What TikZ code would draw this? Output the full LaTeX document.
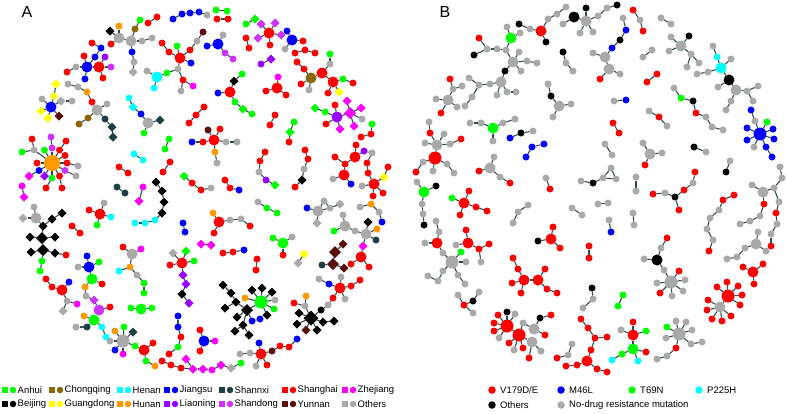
\documentclass[tikz,border=0pt]{standalone}
\usepackage{fontspec}
\setmainfont{Liberation Sans}
\usetikzlibrary{shapes.geometric}
\definecolor{cRD}{HTML}{FF0000}
\definecolor{cBL}{HTML}{0000FF}
\definecolor{cGN}{HTML}{00FF00}
\definecolor{cCY}{HTML}{00FFFF}
\definecolor{cBK}{HTML}{000000}
\definecolor{cOR}{HTML}{FF9900}
\definecolor{cYE}{HTML}{FFFF00}
\definecolor{cMG}{HTML}{FF00FF}
\definecolor{cLP}{HTML}{9900FF}
\definecolor{cSD}{HTML}{CC33FF}
\definecolor{cCQ}{HTML}{8B6508}
\definecolor{cYN}{HTML}{5C0F0F}
\definecolor{cSX}{HTML}{1E3F46}
\definecolor{cGY}{HTML}{A9A9A9}
\definecolor{cED}{HTML}{2F4F4F}
\newcommand\mkN[3]{\node[#3] (#1) at (#2) {};}
\newcommand\mkE[1]{\foreach \fromN/\toN in {#1}{\draw[edge] (\fromN)--(\toN);}}
\begin{document}
\begin{tikzpicture}[x=1pt,y=-1pt,
  nd/.style={circle,draw=none,inner sep=0pt,outer sep=0pt,minimum size=7pt},
  RD/.style={nd,fill=cRD}, BL/.style={nd,fill=cBL}, GN/.style={nd,fill=cGN},
  CY/.style={nd,fill=cCY}, BK/.style={nd,fill=cBK}, OR/.style={nd,fill=cOR},
  YE/.style={nd,fill=cYE}, MG/.style={nd,fill=cMG}, LP/.style={nd,fill=cLP},
  SD/.style={nd,fill=cSD}, CQ/.style={nd,fill=cCQ}, YN/.style={nd,fill=cYN},
  SX/.style={nd,fill=cSX}, GY/.style={nd,fill=cGY},
  dia/.style={diamond,minimum size=9pt},
  hub/.style={minimum size=11pt},
  lhub/.style={minimum size=13pt},
  bhub/.style={minimum size=16pt},
  dhub/.style={diamond,minimum size=12pt},
  dbig/.style={diamond,minimum size=15pt},
  edge/.style={draw=cED,line width=1.1pt},
  lsq/.style={rectangle,draw=none,inner sep=0pt,minimum size=6pt},
  lci/.style={circle,draw=none,inner sep=0pt,minimum size=6.5pt},
  lcb/.style={circle,draw=none,inner sep=0pt,minimum size=7.5pt},
  ltx/.style={anchor=west,inner sep=0pt,font=\fontsize{9.5}{11}\selectfont},
  plab/.style={inner sep=0pt,font=\fontsize{16}{16}\selectfont}]
\useasboundingbox (0,0) rectangle (787,413);
\node[plab] (labA) at (27,12) {A};
\node[plab] (labB) at (445,12) {B};
% ================= Panel A =================
\mkN{aa1}{148,23}{RD}\mkN{aa2}{157,17}{RD}\mkE{aa1/aa2}
\mkN{ab1}{173,19}{BL}\mkN{ab2}{182,14}{BL}\mkN{ab3}{190,13}{BL}\mkN{ab4}{199,12}{BL}\mkN{ab5}{207,15}{GY}
\mkE{ab1/ab2,ab2/ab3,ab3/ab4,ab4/ab5}
\mkN{ac1}{216,10}{GN}\mkN{ac2}{227,11}{GN}\mkN{ac3}{217,19}{RD}\mkN{ac4}{228,19}{RD}\mkE{ac1/ac2,ac3/ac4}
\mkN{ad1}{119,38}{GY,hub}\mkN{ad2}{131,41}{GY,hub}\mkN{ad3}{110,31}{BK,dia}\mkN{ad4}{119,26}{OR}\mkN{ad5}{135,29}{CQ}\mkN{ad6}{140,20}{GN}\mkN{ad7}{142,41}{GY}\mkN{ad8}{152,38}{GY}\mkN{ad9}{111,44}{RD}\mkN{ad10}{132,52}{BL}\mkN{ad11}{134,62}{GY}\mkN{ad12}{133,72}{GY,dia}
\mkE{ad1/ad3,ad1/ad4,ad1/ad9,ad1/ad2,ad2/ad5,ad5/ad6,ad2/ad7,ad7/ad8,ad2/ad10,ad10/ad11,ad11/ad12}
\mkN{ae1}{92,43}{RD}\mkN{ae2}{101,48}{BL}\mkN{ae3}{95,57}{BL}\mkN{ae4}{105,57}{LP}\mkN{ae5}{87,67}{BL,hub}\mkN{ae6}{99,67}{RD,hub}\mkN{ae7}{111,67}{SD}\mkN{ae8}{103,78}{RD}\mkN{ae9}{76,67}{GY}\mkN{ae10}{67,72}{RD}\mkN{ae11}{85,79}{BL}\mkN{ae12}{84,56}{RD}
\mkE{ae1/ae2,ae2/ae3,ae3/ae5,ae4/ae6,ae5/ae6,ae6/ae7,ae6/ae8,ae5/ae9,ae9/ae10,ae5/ae11,ae5/ae12}
\mkN{af1}{180,58}{RD,hub}\mkN{af2}{162,43}{RD}\mkN{af3}{169,52}{RD}\mkN{af4}{177,46}{GN}\mkN{af5}{191,63}{BL}\mkN{af6}{190,50}{RD}\mkN{af7}{197,41}{GY}\mkN{af16}{203,32}{YN}\mkN{af8}{178,69}{GY}\mkN{af9}{183,80}{RD}\mkN{af10}{193,86}{MG}\mkN{af11}{181,91}{GY}\mkN{af12}{167,73}{GN}\mkN{af13}{157,77}{CY,hub}\mkN{af14}{147,71}{GY}\mkN{af15}{154,88}{CY}
\mkE{af2/af3,af3/af1,af4/af1,af1/af5,af1/af6,af6/af7,af7/af16,af1/af8,af8/af9,af9/af10,af9/af11,af8/af12,af12/af13,af13/af14,af13/af15}
\mkN{gb1}{223,35}{GY}\mkN{gb2}{218,44}{BL,hub}\mkN{gb3}{207,46}{BL}\mkN{gb4}{225,53}{SD}\mkN{gb5}{233,59}{SD}
\mkE{gb1/gb2,gb2/gb3,gb2/gb4,gb4/gb5}
\mkN{ag1}{51,107}{BL,hub}\mkN{ag2}{41,111}{YE,dia}\mkN{ag3}{48,118}{YE,dia}\mkN{ag4}{54,96}{YE}\mkN{ag5}{56,84}{YE,dia}\mkN{ag6}{42,99}{GY}\mkN{ag7}{61,101}{GY,dia}\mkN{ag8}{72,101}{GY}\mkN{ag9}{59,116}{YN,dia}
\mkE{ag1/ag2,ag1/ag3,ag1/ag4,ag4/ag5,ag1/ag6,ag1/ag7,ag7/ag8,ag1/ag9}
\mkN{ah1}{68,84}{GY}\mkN{ah2}{78,87}{GY}\mkN{ah3}{87,92}{OR}\mkN{ah4}{92,102}{RD}\mkN{ah5}{97,110}{GY,hub}\mkN{ah6}{107,104}{GY}\mkN{ah7}{88,118}{CQ}\mkN{ah8}{79,124}{CQ}\mkN{ah9}{105,119}{SX}\mkN{ah10}{112,127}{SX,dia}\mkN{ah11}{113,137}{SX,dia}
\mkE{ah1/ah2,ah2/ah3,ah3/ah4,ah4/ah5,ah5/ah6,ah5/ah7,ah7/ah8,ah5/ah9,ah9/ah10,ah10/ah11}
\mkN{ai1}{129,98}{CY}\mkN{ai2}{133,107}{CY,dia}\mkN{ai3}{141,114}{BL}\mkN{ai4}{148,123}{GY,hub}\mkN{ai5}{160,120}{SX,dia}\mkN{ai6}{144,133}{GN}
\mkE{ai1/ai2,ai2/ai3,ai3/ai4,ai4/ai5,ai4/ai6}
\mkN{aj1}{169,139}{GN}\mkN{aj2}{165,149}{GN}\mkE{aj1/aj2}
\mkN{al0}{52,163}{OR,bhub}
\mkN{al1}{34,150}{GY}\mkN{al2}{32,139}{RD}\mkN{al3}{22,152}{GN}
\mkN{al6}{52,148}{SD}\mkN{al4}{51,137}{SD}\mkN{al5}{44.5,150}{GN}
\mkN{al7}{59.5,150}{RD}\mkN{al8}{66,141}{RD}
\mkN{al21}{65,155.5}{RD}\mkN{al19}{67,163}{RD}\mkN{al20}{78,166}{GY}
\mkN{al9}{37,163}{RD}\mkN{al10}{39,170.5}{BL}\mkN{al12}{29,176}{MG,dia}\mkN{al11}{44.5,176}{LP,dia}
\mkN{al13}{52,178}{GN}\mkN{al14}{46,188}{RD}\mkN{al15}{59.5,176}{RD}\mkN{al16}{62,188}{RD}\mkN{al17}{65,170.5}{SD}\mkN{al18}{76,176}{GY}
\mkE{al0/al1,al1/al2,al1/al3,al0/al6,al6/al4,al0/al5,al0/al7,al7/al8,al0/al21,al0/al19,al19/al20,al0/al9,al0/al10,al10/al12,al0/al11,al0/al13,al13/al14,al0/al15,al15/al16,al0/al17,al17/al18}
\mkN{am1}{134,154}{CY}\mkN{am2}{143,160}{CY}\mkE{am1/am2}
\mkN{an1}{119,167}{RD}\mkN{an2}{128,173}{RD}\mkE{an1/an2}
\mkN{ao1}{170,162}{RD}\mkN{ao2}{163,172}{RD}\mkE{ao1/ao2}
\mkN{ap1}{184,176}{GN,dia}\mkN{ap2}{192,183}{RD}\mkN{ap3}{201,190}{RD}\mkN{ap4}{211,188}{GY}\mkE{ap1/ap2,ap2/ap3,ap3/ap4}
\mkN{aq1}{117,187}{SX}\mkN{aq2}{125,193}{SX}\mkE{aq1/aq2}
\mkN{ar1}{143,187}{MG}\mkN{ar2}{139,201}{MG,dia}\mkE{ar1/ar2}
\mkN{as1}{156,182}{BK,dia}\mkN{as2}{162,191}{BK,dia}\mkN{as3}{164,202}{BK,dia}\mkN{as4}{162,213}{BK,dia}\mkN{as5}{155,220}{CY}\mkN{as6}{145,223}{CY}\mkN{as7}{135,223}{CY}
\mkE{as1/as2,as2/as3,as3/as4,as4/as5,as5/as6,as6/as7}
\mkN{at1}{22,186}{MG}\mkN{at2}{24,197}{MG,dia}\mkE{at1/at2}
\mkN{au1}{255,19}{GN,dia}\mkN{au2}{246,24}{GN}\mkE{au1/au2}
\mkN{av1}{269,33}{RD,hub}\mkN{av2}{261,24}{SD,dia}\mkN{av3}{275,23}{SD,dia}\mkN{av4}{258,38}{SD,dia}\mkN{av5}{281,35}{SD,dia}\mkN{av6}{270,45}{RD}
\mkE{av1/av2,av1/av3,av1/av4,av1/av5,av1/av6}
\mkN{aw1}{246,38}{RD}\mkN{aw2}{249,48}{RD}\mkE{aw1/aw2}
\mkN{ax1}{287,31}{BL}\mkN{ax2}{292,40}{BL,hub}\mkN{ax3}{303,41}{RD}\mkN{ax4}{285,49}{GY}\mkE{ax1/ax2,ax2/ax3,ax2/ax4}
\mkN{ay1}{295,53}{RD}\mkN{ay2}{305,50}{RD}\mkN{ay3}{315,53}{RD}\mkE{ay1/ay2,ay2/ay3}
\mkN{az1}{261,64}{LP}\mkN{az2}{271,59}{LP,dia}\mkE{az1/az2}
\mkN{ca1}{330,54}{GN}\mkN{ca2}{330,64}{GY}\mkN{ca3}{322,73}{RD,hub}\mkN{ca4}{311,78}{CQ,hub}\mkN{ca5}{297,62}{RD}\mkN{ca6}{304,69}{RD}\mkN{ca7}{301,84}{RD}\mkN{ca8}{309,90}{GY}\mkN{ca9}{333,82}{RD,hub}\mkN{ca10}{343,79}{GN}\mkN{ca11}{353,83}{RD}\mkN{ca12}{328,93}{RD}\mkN{ca13}{339,92}{YE,dia}
\mkE{ca1/ca2,ca2/ca3,ca3/ca4,ca5/ca6,ca6/ca4,ca4/ca7,ca4/ca8,ca3/ca9,ca9/ca10,ca10/ca11,ca9/ca12,ca9/ca13}
\mkN{cb1}{242,74}{GN}\mkN{cb2}{234,81}{BK,dia}\mkN{cb3}{230,92}{RD,hub}\mkN{cb4}{218,93}{BL}\mkN{cb5}{235,102}{GN}\mkN{cb6}{243,109}{GN,dia}\mkN{cb7}{252,114}{GN}
\mkE{cb1/cb2,cb2/cb3,cb3/cb4,cb3/cb5,cb5/cb6,cb6/cb7}
\mkN{cc1}{189,123}{RD}\mkN{cc2}{196,115}{RD}\mkN{cc3}{204,107}{RD}\mkE{cc1/cc2,cc2/cc3}
\mkN{cd1}{278,77}{MG}\mkN{cd2}{277,88}{RD,hub}\mkN{cd3}{266,91}{RD}\mkN{cd4}{286,95}{RD}\mkE{cd1/cd2,cd3/cd2,cd2/cd4}
\mkN{ce1}{337,117}{LP,hub}\mkN{ce2}{350,113}{MG,dhub}\mkN{ce3}{347,101}{MG,dia}\mkN{ce4}{361,108}{MG,dia}\mkN{ce5}{354,126}{MG,dia}\mkN{ce6}{340,129}{MG,dia}\mkN{ce7}{362,119}{GY}\mkN{ce8}{335,105}{RD}\mkN{ce9}{326,124}{RD}\mkN{ce10}{325,112}{GN}\mkN{ce11}{315,108}{GN,dia}
\mkE{ce1/ce2,ce2/ce3,ce2/ce4,ce2/ce5,ce1/ce6,ce2/ce7,ce1/ce8,ce1/ce9,ce1/ce10,ce10/ce11}
\mkN{cf1}{275,115}{RD}\mkN{cf2}{270,125}{RD}\mkE{cf1/cf2}
\mkN{cg1}{294,122}{GN}\mkN{cg2}{290,132}{GN,dia}\mkN{cg3}{289,142}{RD}\mkE{cg1/cg2,cg2/cg3}
\mkN{ch1}{372,124}{GN}\mkN{ch2}{371,134}{RD}\mkN{ch3}{361,137}{RD}\mkE{ch1/ch2,ch2/ch3}
\mkN{ci1}{214,140}{RD,hub}\mkN{ci2}{208,130}{YN}\mkN{ci3}{220,129}{RD}\mkN{ci4}{203,142}{RD}\mkN{ci5}{192,142}{BL}\mkN{ci6}{226,142}{GY}\mkN{ci7}{237,142}{GY}\mkN{ci8}{215,152}{OR}\mkN{ci9}{217,163}{GY}
\mkE{ci1/ci2,ci1/ci3,ci1/ci4,ci4/ci5,ci1/ci6,ci6/ci7,ci1/ci8,ci8/ci9}
\mkN{cj1}{265,152}{RD}\mkN{cj2}{260,161}{RD}\mkN{cj3}{259,172}{GY}\mkN{cj4}{266,180}{LP}\mkN{cj5}{275,185}{GN,dia}\mkE{cj1/cj2,cj2/cj3,cj3/cj4,cj4/cj5}
\mkN{ck1}{305,150}{RD}\mkN{ck2}{308,159}{RD}\mkN{ck3}{304,169}{GY}\mkN{ck4}{302,180}{BK,dia}\mkN{ck5}{295,187}{RD}\mkE{ck1/ck2,ck2/ck3,ck3/ck4,ck4/ck5}
\mkN{cl1}{356,145}{RD}\mkN{cl2}{355,157}{RD,hub}\mkN{cl3}{364,151}{LP}\mkN{cl5}{345,164}{RD}\mkN{cl6}{335,157}{RD}\mkN{cl7}{344,175}{RD,hub}\mkN{cl8}{333,179}{GY}\mkN{cl9}{351,184}{BL}
\mkE{cl1/cl2,cl2/cl3,cl2/cl5,cl5/cl6,cl5/cl7,cl7/cl8,cl7/cl9}
\mkN{cm1}{372,153}{GY}\mkN{cm2}{367,163}{RD}\mkN{cm3}{368,173}{RD}\mkN{cm4}{374,184}{RD,hub}\mkN{cm5}{384,177}{YE,dia}\mkN{cm6}{388,167}{RD}\mkN{cm7}{362,186}{GY}\mkN{cm8}{373,196}{RD}\mkN{cm9}{383,193}{RD}
\mkE{cl3/cm1,cm1/cm2,cm2/cm3,cm3/cm4,cm4/cm5,cm5/cm6,cm4/cm7,cm4/cm8,cm4/cm9}
\mkN{cn1}{225,180}{RD}\mkN{cn2}{230,188}{RD}\mkN{cn3}{239,190}{BL}\mkE{cn1/cn2,cn2/cn3}
\mkN{co1}{34,207}{GY}\mkN{co2}{23,218}{GY,dia}\mkN{co3}{36,218}{GY,hub}\mkN{co4}{43,226}{BK,dia}\mkN{co5}{62,213}{BK,dia}\mkN{co6}{52,219}{BK,dia}\mkN{co7}{42,238}{BK,dhub}\mkN{co8}{30,237}{BK,dia}\mkN{co9}{55,237}{BK,dia}\mkN{co10}{43,250}{BK,dhub}\mkN{co11}{31,252}{BK,dia}\mkN{co12}{55,253}{BK,dia}\mkN{co13}{66,255}{RD}\mkN{co14}{42,261}{GN}\mkN{co15}{40,271}{GN}
\mkE{co1/co3,co2/co3,co3/co4,co4/co7,co5/co6,co6/co4,co7/co8,co7/co9,co7/co10,co10/co11,co10/co12,co12/co13,co10/co14,co14/co15}
\mkN{cp1}{89,210}{RD}\mkN{cp2}{100,214}{RD,hub}\mkN{cp3}{104,203}{GY}\mkN{cp4}{111,217}{CY}\mkN{cp5}{97,225}{GN}\mkE{cp1/cp2,cp2/cp3,cp2/cp4,cp2/cp5}
\mkN{cq1}{72,226}{RD}\mkN{cq2}{80,233}{RD}\mkE{cq1/cq2}
\mkN{cr1}{183,223}{BL}\mkN{cr2}{185,232}{BL}\mkE{cr1/cr2}
\mkN{cs1}{201,244}{MG,dia}\mkN{cs2}{211,245}{MG,dia}\mkE{cs1/cs2}
\mkN{ct1}{123,247}{RD}\mkN{ct2}{132,254}{GY,hub}\mkN{ct3}{141,249}{MG}\mkN{ct4}{130,267}{OR}\mkN{ct5}{119,271}{CY}\mkN{ct6}{137,275}{GY}\mkN{ct7}{144,283}{GN}\mkN{ct8}{144,293}{GN}
\mkE{ct1/ct2,ct2/ct3,ct2/ct4,ct4/ct5,ct4/ct6,ct6/ct7,ct7/ct8}
\mkN{cu1}{87,256}{BL}\mkN{cu2}{89,267}{BL,hub}\mkN{cu3}{78,267}{GY}\mkN{cu4}{99,262}{GN}\mkN{cu5}{92,279}{GN,hub}\mkN{cu6}{102,284}{RD}\mkN{cu7}{85,287}{OR}
\mkE{cu1/cu2,cu2/cu3,cu2/cu4,cu2/cu5,cu5/cu6,cu5/cu7}
\mkN{cv1}{46,279}{RD}\mkN{cv2}{52,287}{RD}\mkN{cv3}{62,290}{RD,hub}\mkN{cv4}{69,282}{BL}\mkN{cv5}{67,301}{GY}\mkN{cv6}{77,304}{MG}\mkN{cv7}{63,311}{GY,dia}
\mkE{cv1/cv2,cv2/cv3,cv3/cv4,cv3/cv5,cv5/cv6,cv5/cv7}
\mkN{cw1}{86,296}{GY}\mkN{cw2}{94,300}{SD,dia}\mkN{cw3}{99,310}{SD,hub}\mkN{cw4}{110,307}{RD}\mkN{cw5}{94,320}{GN,hub}\mkN{cw6}{84,316}{OR}\mkN{cw7}{87,327}{SX}\mkN{cw8}{76,327}{GY}\mkN{cw9}{102,327}{CY}\mkN{cw10}{106,337}{CY}
\mkE{cu7/cw1,cw1/cw2,cw2/cw3,cw3/cw4,cw3/cw5,cw5/cw6,cw5/cw7,cw7/cw8,cw5/cw9,cw9/cw10}
\mkN{cx1}{131,308}{GN}\mkN{cx2}{141,309}{GN,hub}\mkN{cx3}{152,308}{GN}\mkE{cx1/cx2,cx2/cx3}
\mkN{cy1}{123,341}{GY,lhub}\mkN{cy2}{115,331}{OR}\mkN{cy3}{124,327}{GN}\mkN{cy4}{133,332}{SX,dia}\mkN{cy5}{110,341}{GY}\mkN{cy6}{115,350}{BL}\mkN{cy7}{123,354}{MG}\mkN{cy8}{135,346}{GN}\mkN{cy9}{144,350}{RD,hub}\mkN{cy10}{153,343}{RD}\mkN{cy11}{146,361}{GN}\mkN{cy12}{155,366}{OR}
\mkE{cy1/cy2,cy1/cy3,cy1/cy4,cy1/cy5,cy1/cy6,cy1/cy7,cy1/cy8,cy8/cy9,cy9/cy10,cy9/cy11,cy11/cy12}
\mkN{cz1}{182,263}{RD,hub}\mkN{cz2}{173,253}{GY,dia}\mkN{cz3}{186,251}{GN,dia}\mkN{cz4}{194,261}{GN}\mkN{cz5}{170,265}{RD}\mkN{cz6}{183,275}{LP,dia}\mkN{cz7}{186,284}{LP,dia}\mkN{cz8}{182,294}{BK,dia}\mkN{cz9}{189,303}{LP,dia}
\mkE{cz1/cz2,cz1/cz3,cz1/cz4,cz1/cz5,cz1/cz6,cz6/cz7,cz7/cz8,cz8/cz9}
\mkN{da1}{178,316}{BL}\mkN{da2}{178,327}{BL}\mkN{da3}{181,337}{RD}\mkN{da4}{178,347}{GN}\mkN{da5}{169,354}{RD}\mkE{da1/da2,da2/da3,da3/da4,da4/da5}
\mkN{db1}{162,361}{RD}\mkN{db2}{171,365}{RD}\mkN{db3}{181,368}{RD}\mkN{db4}{186,359}{MG,dia}\mkN{db5}{193,369}{MG,dia}\mkN{db6}{203,369}{MG,dia}\mkN{db7}{212,370}{MG}\mkN{db8}{221,365}{MG,dia}\mkN{db9}{231,368}{GY,dia}\mkN{db10}{241,363}{GN}
\mkE{db1/db2,db2/db3,db3/db5,db4/db5,db5/db6,db6/db7,db7/db8,db8/db9,db9/db10}
\mkN{dc1}{258,202}{GY}\mkN{dc2}{267,208}{GN}\mkN{dc3}{277,213}{GN}\mkE{dc1/dc2,dc2/dc3}
\mkN{dd1}{213,213}{OR}\mkN{dd2}{219,222}{RD,hub}\mkN{dd3}{214,233}{RD}\mkN{dd4}{230,220}{GY}\mkN{dd5}{241,219}{GY}\mkN{dd6}{250,226}{RD}
\mkE{dd1/dd2,dd2/dd3,dd2/dd4,dd4/dd5,dd5/dd6}
\mkN{de1}{223,253}{RD}\mkN{de2}{233,252}{RD}\mkN{de3}{244,250}{BL}\mkE{de1/de2,de2/de3}
\mkN{df1}{257,259}{RD}\mkN{df2}{256,270}{RD}\mkE{df1/df2}
\mkN{dg1}{273,238}{GN}\mkN{dg2}{283,243}{GN,hub}\mkN{dg3}{292,237}{GY}\mkN{dg4}{283,255}{RD}\mkE{dg1/dg2,dg2/dg3,dg2/dg4}
\mkN{dh1}{304,254}{YE,dia}\mkN{dh2}{298,263}{GY,dia}\mkE{dh1/dh2}
\mkN{di1}{307,208}{BL}\mkN{di2}{318,211}{GY,hub}\mkN{di3}{324,201}{GY}\mkN{di4}{330,208}{GY}\mkN{di5}{340,204}{GY,dia}\mkN{di6}{317,223}{GY,dia}
\mkE{di1/di2,di2/di3,di2/di4,di3/di4,di4/di5,di2/di6}
\mkN{dj1}{360,207}{GY}\mkN{dj2}{371,204}{OR}\mkN{dj3}{379,212}{GY}\mkN{dj4}{382,222}{BL}\mkE{dj1/dj2,dj2/dj3,dj3/dj4}
\mkN{dk1}{343,215}{GY}\mkN{dk2}{345,226}{GY,hub}\mkN{dk3}{334,231}{GN}\mkN{dk4}{355,231}{GY}\mkN{dk5}{366,234}{GY,hub}\mkN{dk6}{368,222}{BK,dia}\mkN{dk7}{377,229}{OR}\mkN{dk8}{376,240}{SX}\mkN{dk9}{363,246}{MG,dia}\mkN{dk10}{361,257}{RD,hub}\mkN{dk11}{351,264}{RD}\mkN{dk12}{369,267}{RD}
\mkE{dk1/dk2,dk2/dk3,dk2/dk4,dk4/dk5,dk5/dk6,dk5/dk7,dk5/dk8,dk5/dk9,dk9/dk10,dk10/dk11,dk10/dk12}
\mkN{dl1}{343,244}{YN,dia}\mkN{dl2}{335,252}{YN,dhub}\mkN{dl3}{333,264}{YN,dhub}\mkN{dl4}{322,265}{SX}\mkN{dl5}{344,268}{YN,dia}
\mkE{dl1/dl2,dl2/dl3,dl3/dl4,dl3/dl5}
\mkN{dm1}{319,279}{GY}\mkN{dm2}{329,284}{BL}\mkN{dm3}{340,288}{RD,hub}\mkN{dm4}{341,277}{GY}\mkN{dm5}{351,286}{RD}\mkN{dm6}{360,280}{RD}\mkN{dm7}{333,298}{RD}\mkN{dm8}{345,299}{GY}
\mkE{dm1/dm2,dm2/dm3,dm3/dm4,dm3/dm5,dm5/dm6,dm3/dm7,dm3/dm8}
\mkN{dn1}{247,310}{BK,dhub}\mkN{dn2}{236,302}{BK,dia}\mkN{dn3}{231,293}{BK,dia}\mkN{dn4}{223,285}{BK,dia}\mkN{dn5}{225,308}{BK,dia}\mkN{dn6}{237,317}{BK,dia}\mkN{dn7}{243,325}{BK,dia}\mkN{dn8}{235,331}{BK,dia}\mkN{dn9}{249,335}{BK,dia}\mkN{dn10}{252,321}{BL}\mkN{dn11}{260,319}{BL}\mkN{dn12}{245,298}{OR}
\mkN{dn13}{261,302}{GN,lhub}\mkN{dn14}{252,290}{BK,dia}\mkN{dn15}{262,288}{BK,dia}\mkN{dn16}{272,292}{BK,dia}\mkN{dn17}{267,315}{BK,dia}\mkN{dn18}{275,300}{GY}\mkN{dn19}{274,309}{GN}
\mkE{dn1/dn2,dn2/dn3,dn3/dn4,dn2/dn5,dn1/dn6,dn1/dn7,dn7/dn8,dn7/dn9,dn1/dn10,dn10/dn11,dn12/dn13,dn1/dn13,dn13/dn14,dn13/dn15,dn13/dn16,dn13/dn18,dn13/dn19,dn13/dn17}
\mkN{do1}{311,318}{BK,dbig}\mkN{do2}{299,313}{BK,dia}\mkN{do3}{297,324}{BK,dia}\mkN{do4}{321,310}{BK}\mkN{do5}{323,322}{BK,dia}\mkN{do6}{317,330}{BK,dia}\mkN{do7}{334,321}{BK,dia}\mkN{do8}{306,330}{YN,dia}\mkN{do9}{305,306}{GY}\mkN{do10}{306,296}{OR}\mkN{do11}{294,303}{RD}\mkN{do12}{328,305}{GY}
\mkE{do1/do2,do1/do3,do1/do4,do4/do12,do12/dm7,do1/do5,do5/do7,do1/do6,do1/do8,do1/do9,do9/do10,do9/do11}
\mkN{dp1}{297,339}{BL}\mkN{dp2}{289,347}{RD}\mkN{dp3}{280,346}{RD}\mkN{dp4}{272,351}{YN}\mkN{dp5}{261,354}{RD,hub}\mkN{dp6}{259,343}{BL}\mkN{dp7}{250,353}{GY}\mkN{dp8}{240,354}{GY}\mkN{dp9}{256,366}{GY}\mkN{dp10}{267,365}{RD}
\mkE{dp1/dp2,dp2/dp3,dp3/dp4,dp4/dp5,dp5/dp6,dp5/dp7,dp7/dp8,dp5/dp9,dp5/dp10}
\mkN{dq1}{204,341}{BL,hub}\mkN{dq2}{200,330}{RD}\mkN{dq3}{215,341}{MG}\mkN{dq4}{200,351}{RD}
\mkE{dq1/dq2,dq1/dq3,dq1/dq4}
% ================= Panel B =================
\mkN{ba1}{519,24}{BK}\mkN{ba2}{530,29}{GY}\mkN{ba3}{541,31}{RD,hub}\mkN{ba4}{548,19}{GY}\mkN{ba5}{557,14}{GY}\mkN{ba6}{566,7}{GY}\mkN{ba7}{546,42}{BK}
\mkE{ba1/ba2,ba2/ba3,ba3/ba4,ba4/ba5,ba5/ba6,ba3/ba7}
\mkN{bb1}{563,24}{GY}\mkN{bb2}{574,17}{BK,hub}\mkN{bb3}{586,21}{GY,hub}\mkN{bb4}{586,8}{BK}\mkN{bb5}{580,33}{GY}\mkN{bb6}{593,32}{GY}\mkN{bb7}{598,16}{GY}\mkN{bb8}{607,8}{GY}\mkN{bb9}{617,5}{BK}
\mkE{bb1/bb2,bb2/bb3,bb3/bb4,bb3/bb5,bb3/bb6,bb3/bb7,bb7/bb8,bb8/bb9}
\mkN{bc1}{507,27}{GY}\mkN{bc2}{511,38}{GN,hub}\mkN{bc3}{520,33}{GY}\mkN{bc4}{506,50}{GY}\mkN{bc5}{513,62}{GY,hub}\mkN{bc6}{519,52}{GY}\mkN{bc7}{527,61}{GY}\mkN{bc8}{537,63}{GY}\mkN{bc9}{521,71}{GY}\mkN{bc10}{505,71}{BK}\mkN{bc11}{501,82}{GY,hub}\mkN{bc12}{490,84}{GY}\mkN{bc13}{479,85}{GY}\mkN{bc14}{469,78}{GY}\mkN{bc15}{472,97}{GY}\mkN{bc16}{465,106}{GY}\mkN{bc17}{507,92}{GY}\mkN{bc18}{516,92}{GY}\mkN{bc19}{497,95}{GY}\mkN{bc20}{479,38}{RD}\mkN{bc21}{487,49}{GY}\mkN{bc22}{497,49}{GY}\mkN{bc23}{474,55}{BK}
\mkE{bc1/bc2,bc2/bc3,bc2/bc4,bc4/bc5,bc5/bc6,bc5/bc7,bc7/bc8,bc5/bc9,bc5/bc10,bc10/bc11,bc11/bc12,bc12/bc13,bc13/bc14,bc13/bc15,bc15/bc16,bc11/bc17,bc17/bc18,bc11/bc19,bc20/bc21,bc21/bc22,bc22/bc4,bc23/bc21}
\mkN{bd1}{450,79}{RD}\mkN{bd2}{453,89}{GY}\mkN{bd3}{462,86}{GY}\mkN{bd4}{448,100}{GY,hub}\mkN{bd5}{436,99}{GY}\mkN{bd6}{441,113}{RD}\mkN{bd7}{457,107}{GY}
\mkE{bd1/bd2,bd2/bd3,bd2/bd4,bd4/bd5,bd4/bd6,bd4/bd7}
\mkN{be1}{429,122}{GY}\mkN{be2}{430,133}{RD}\mkN{be3}{437,145}{GY,hub}\mkN{be4}{425,143}{GY}\mkN{be5}{444,134}{GY}\mkN{be6}{450,144}{GY}\mkN{be7}{461,139}{RD}\mkN{be8}{435,158}{RD,lhub}\mkN{be9}{423,162}{GY}\mkN{be10}{416,172}{RD}\mkN{be11}{433,171}{GY}\mkN{be12}{447,164}{GY}\mkN{be13}{454,173}{GY}
\mkE{be1/be2,be2/be3,be3/be4,be3/be5,be3/be6,be6/be7,be3/be8,be8/be9,be9/be10,be8/be11,be8/be12,be12/be13}
\mkN{bf1}{470,123}{GY}\mkN{bf2}{481,123}{GY}\mkN{bf3}{493,128}{GN,hub}\mkN{bf4}{503,123}{GY}\mkN{bf5}{515,119}{GY}\mkN{bf6}{493,141}{GY}
\mkE{bf1/bf2,bf2/bf3,bf3/bf4,bf4/bf5,bf3/bf6}
\mkN{bg1}{510,138}{BL}\mkN{bg2}{521,133}{BK}\mkN{bg3}{533,131}{GY}\mkE{bg1/bg2,bg2/bg3}
\mkN{bh1}{526,157}{BL}\mkN{bh2}{532,147}{BL}\mkN{bh3}{544,144}{BL}\mkE{bh1/bh2,bh2/bh3}
\mkN{bi1}{548,84}{GY}\mkN{bi2}{551,96}{BK}\mkN{bi3}{559,106}{GY,hub}\mkN{bi4}{571,104}{GY}\mkN{bi5}{553,117}{GY}
\mkE{bi1/bi2,bi2/bi3,bi3/bi4,bi3/bi5}
\mkN{bj1}{563,52}{BK}\mkN{bj2}{566,63}{GY}\mkN{bj3}{573,71}{GY}\mkE{bj1/bj2,bj2/bj3}
\mkN{bk1}{623,18}{GY}\mkN{bk2}{626,30}{BL}\mkN{bk3}{620,40}{BK}\mkN{bk4}{612,48}{BL}\mkN{bk5}{605,57}{GY,hub}\mkN{bk6}{593,53}{GY}\mkN{bk7}{609,69}{GY,hub}\mkN{bk8}{600,79}{RD}\mkN{bk9}{620,74}{GY}
\mkE{bk1/bk2,bk2/bk3,bk3/bk4,bk4/bk5,bk5/bk6,bk5/bk7,bk7/bk8,bk7/bk9}
\mkN{bl1}{633,10}{RD}\mkN{bl2}{640,20}{GY}\mkN{bl3}{643,31}{RD}\mkE{bl1/bl2,bl2/bl3}
\mkN{bm1}{661,18}{GY}\mkN{bm2}{671,24}{GY}\mkE{bm1/bm2}
\mkN{bn1}{689,36}{BK}\mkN{bn2}{681,46}{GY,hub}\mkN{bn3}{671,37}{GY}\mkN{bn4}{669,51}{GY}\mkN{bn5}{691,54}{GY}\mkN{bn6}{699,63}{GY}\mkN{bn7}{687,67}{GY}
\mkE{bn1/bn2,bn2/bn3,bn2/bn4,bn2/bn5,bn5/bn6,bn5/bn7}
\mkN{bo1}{643,57}{GY}\mkN{bo2}{652,50}{GY}\mkE{bo1/bo2}
\mkN{bp1}{713,46}{GY}\mkN{bp2}{717,57}{CY}\mkN{bp3}{721,68}{CY,hub}\mkN{bp4}{731,59}{GY}\mkN{bp5}{708,72}{GY}\mkN{bp6}{697,74}{GY}\mkN{bp7}{729,80}{BK,hub}\mkN{bp8}{718,87}{GY}\mkN{bp9}{736,90}{GY,hub}\mkN{bp10}{731,101}{GY}\mkN{bp11}{726,110}{GY}\mkN{bp12}{747,91}{GY}\mkN{bp13}{758,86}{GY}\mkN{bp14}{753,101}{GY}
\mkE{bp1/bp2,bp2/bp3,bp3/bp4,bp3/bp5,bp5/bp6,bp3/bp7,bp7/bp8,bp7/bp9,bp9/bp10,bp10/bp11,bp9/bp12,bp12/bp13,bp12/bp14}
\mkN{bq1}{657,74}{RD}\mkN{bq2}{647,82}{RD}\mkE{bq1/bq2}
\mkN{br1}{614,101}{GY}\mkN{br2}{626,100}{BL}\mkE{br1/br2}
\mkN{bs1}{674,88}{GY}\mkN{bs2}{681,98}{GN}\mkN{bs3}{693,101}{BK}\mkN{bs4}{696,113}{RD}\mkN{bs5}{706,117}{GY}\mkN{bs6}{712,127}{GY}\mkN{bs7}{723,130}{GY}
\mkE{bs1/bs2,bs2/bs3,bs3/bs4,bs4/bs5,bs5/bs6,bs6/bs7}
\mkN{bt1}{649,111}{GY}\mkN{bt2}{659,117}{RD}\mkN{bt3}{667,126}{GY}\mkE{bt1/bt2,bt2/bt3}
\mkN{bu1}{613,123}{RD}\mkN{bu2}{619,133}{RD}\mkE{bu1/bu2}
\mkN{bv1}{760,134}{BL,lhub}\mkN{bv2}{755,121}{GY}\mkN{bv3}{751,110}{BL}\mkN{bv4}{767,122}{GN}\mkN{bv5}{773,129}{BL}\mkN{bv6}{774,139}{BL}\mkN{bv7}{747,128}{BL}\mkN{bv8}{747,140}{BL}\mkN{bv9}{754,147}{GY}\mkN{bv10}{766,147}{BL}\mkN{bv11}{772,157}{BL}
\mkE{bv1/bv2,bv2/bv3,bv1/bv4,bv1/bv5,bv1/bv6,bv1/bv7,bv1/bv8,bv1/bv9,bv1/bv10,bv10/bv11}
\mkN{bw1}{605,144}{GY}\mkN{bw2}{612,155}{GY}\mkE{bw1/bw2}
\mkN{bx1}{643,143}{GY}\mkN{bx2}{650,154}{GY,hub}\mkN{bx3}{662,153}{GY}\mkN{bx4}{645,165}{RD}\mkE{bx1/bx2,bx2/bx3,bx2/bx4}
\mkN{by1}{694,147}{BK}\mkN{by2}{706,152}{GY}\mkE{by1/by2}
\mkN{bz1}{730,161}{GY}\mkN{bz2}{726,172}{BK}\mkE{bz1/bz2}
\mkN{ea1}{611,168}{GY}\mkN{ea2}{603,178}{GY}\mkN{ea3}{616,179}{GY}\mkN{ea4}{593,183}{BK}\mkN{ea5}{581,181}{GY}
\mkE{ea1/ea2,ea2/ea3,ea3/ea1,ea2/ea4,ea4/ea5}
\mkN{eb1}{636,177}{GY}\mkN{eb2}{636,191}{GY}\mkE{eb1/eb2}
\mkN{ec1}{695,172}{RD}\mkN{ec2}{693,183}{GY}\mkN{ec3}{684,190}{RD}\mkN{ec4}{675,197}{BK}\mkN{ec5}{665,193}{GY}\mkN{ec6}{653,194}{RD}\mkN{ec7}{679,210}{RD}
\mkE{ec1/ec2,ec2/ec3,ec3/ec4,ec4/ec5,ec5/ec6,ec4/ec7}
\mkN{ee1}{780,167}{GY}\mkN{ee2}{782,178}{GY}\mkN{ee3}{774,188}{GY}\mkN{ee4}{763,192}{GY,hub}\mkN{ee5}{752,185}{GY}\mkN{ee6}{764,204}{RD}\mkN{ee7}{760,216}{GY}\mkN{ee8}{750,221}{GY}\mkN{ee9}{740,224}{GY}\mkN{ee10}{779,202}{GY}\mkN{ee11}{776,213}{RD}\mkN{ee12}{777,224}{GY}\mkN{ee13}{771,234}{GY}\mkN{ee14}{771,246}{RD}
\mkE{ee1/ee2,ee2/ee3,ee3/ee4,ee4/ee5,ee4/ee6,ee6/ee7,ee7/ee8,ee8/ee9,ee3/ee10,ee10/ee11,ee11/ee12,ee12/ee13,ee13/ee14}
\mkN{ef1}{546,178}{GY}\mkN{ef2}{550,189}{RD}\mkE{ef1/ef2}
\mkN{eg1}{494,157}{GY}\mkN{eg2}{490,168}{GY,hub}\mkN{eg3}{479,171}{RD}\mkN{eg4}{500,177}{GY}\mkN{eg5}{510,183}{RD}\mkE{eg1/eg2,eg2/eg3,eg2/eg4,eg4/eg5}
\mkN{eh1}{417,182}{GY}\mkN{eh2}{424,192}{GN,hub}\mkN{eh3}{436,186}{BK}\mkN{eh4}{422,204}{GY}\mkN{eh5}{423,214}{GY}\mkN{eh6}{424,225}{BK}
\mkE{eh1/eh2,eh2/eh3,eh2/eh4,eh4/eh5,eh5/eh6}
\mkN{ei1}{452,198}{GN}\mkN{ei2}{464,203}{RD,hub}\mkN{ei3}{469,191}{RD}\mkN{ei4}{460,215}{RD}\mkN{ei5}{476,207}{RD}\mkN{ei6}{487,211}{RD}
\mkE{ei1/ei2,ei2/ei3,ei2/ei4,ei2/ei5,ei5/ei6}
\mkN{ek1}{436,221}{GY}\mkN{ek2}{439,232}{GY}\mkN{ek3}{437,243}{RD,hub}\mkN{ek4}{425,243}{GY}\mkN{ek5}{443,253}{GY}\mkN{ek6}{452,262}{GY,lhub}\mkN{ek7}{461,252}{GN}\mkN{ek8}{466,262}{GY}\mkN{ek9}{443,271}{GY}\mkN{ek10}{438,281}{GY}\mkN{ek11}{428,276}{GY}\mkN{ek12}{458,275}{GY}\mkN{ek13}{465,284}{GY}
\mkE{ek1/ek2,ek2/ek3,ek3/ek4,ek3/ek5,ek5/ek6,ek6/ek7,ek6/ek8,ek6/ek9,ek9/ek10,ek10/ek11,ek6/ek12,ek12/ek13}
\mkN{el1}{466,230}{RD}\mkN{el2}{468,243}{RD,hub}\mkN{el3}{456,245}{GY}\mkN{el4}{479,249}{RD}\mkN{el5}{489,244}{RD}\mkN{el6}{481,262}{GY}
\mkE{el1/el2,el2/el3,el2/el4,el4/el5,el4/el6}
\mkN{em1}{528,205}{GY}\mkN{em2}{518,212}{GY}\mkN{em3}{513,223}{GY}\mkE{em1/em2,em2/em3}
\mkN{en1}{572,208}{GY}\mkN{en2}{582,215}{GY}\mkE{en1/en2}
\mkN{eo1}{598,204}{GY}\mkN{eo2}{608,203}{GY}\mkE{eo1/eo2}
\mkN{ep1}{553,227}{RD}\mkN{ep2}{551,239}{RD,hub}\mkN{ep3}{538,241}{BK}\mkN{ep4}{560,248}{RD}\mkE{ep1/ep2,ep2/ep3,ep2/ep4}
\mkN{eq1}{589,246}{RD}\mkN{eq2}{589,258}{RD}\mkE{eq1/eq2}
\mkN{er1}{513,258}{RD}\mkN{er2}{518,269}{RD}\mkN{er3}{524,280}{RD,hub}\mkN{er4}{512,283}{RD}\mkN{er5}{521,293}{RD}\mkN{er6}{538,280}{RD,hub}\mkN{er7}{545,269}{RD}\mkN{er8}{547,289}{RD}\mkN{er9}{557,293}{RD}
\mkE{er1/er2,er2/er3,er3/er4,er3/er5,er3/er6,er6/er7,er6/er8,er8/er9}
\mkN{es1}{458,295}{GY}\mkN{es2}{464,305}{RD}\mkN{es3}{473,301}{BK}\mkN{es4}{479,292}{GY}\mkN{es5}{473,313}{GY}
\mkE{es1/es2,es2/es3,es3/es4,es2/es5}
\mkN{et1}{592,288}{BK}\mkN{et2}{593,299}{GY}\mkN{et3}{583,308}{GY}\mkE{et1/et2,et2/et3}
\mkN{eu1}{507,326}{RD,lhub}\mkN{eu2}{507,312}{BK}\mkN{eu3}{515,314}{GY}\mkN{eu4}{498,315}{RD}\mkN{eu5}{494,323}{RD}\mkN{eu6}{494,331}{RD}\mkN{eu7}{499,338}{GY}\mkN{eu8}{519,335}{RD,lhub}\mkN{eu9}{509,343}{RD}\mkN{eu10}{514,350}{GY}\mkN{eu11}{523,348}{RD}\mkN{eu12}{532,342}{GY,hub}\mkN{eu13}{541,351}{GY}\mkN{eu14}{529,358}{RD}\mkN{eu15}{523,323}{GY}\mkN{eu16}{534,329}{GY,hub}\mkN{eu17}{540,318}{BK}\mkN{eu18}{551,315}{RD}\mkN{eu19}{545,335}{RD}
\mkE{eu1/eu2,eu1/eu3,eu1/eu4,eu1/eu5,eu1/eu6,eu1/eu7,eu1/eu8,eu8/eu9,eu8/eu10,eu8/eu11,eu8/eu12,eu12/eu13,eu12/eu14,eu8/eu15,eu15/eu16,eu16/eu17,eu17/eu18,eu16/eu19}
\mkN{ev1}{572,344}{GY}\mkN{ev2}{568,355}{GY}\mkN{ev3}{557,358}{RD}\mkE{ev1/ev2,ev2/ev3}
\mkN{ew1}{581,319}{RD}\mkN{ew2}{588,328}{RD}\mkN{ew3}{595,338}{RD}\mkN{ew4}{607,337}{RD}\mkN{ew5}{591,350}{RD}\mkN{ew6}{587,361}{RD,hub}\mkN{ew7}{577,365}{RD}\mkN{ew8}{566,366}{RD}\mkN{ew9}{597,369}{RD}\mkN{ew10}{607,372}{RD}
\mkE{ew1/ew2,ew2/ew3,ew3/ew4,ew3/ew5,ew5/ew6,ew6/ew7,ew7/ew8,ew6/ew9,ew9/ew10}
\mkN{ex1}{667,238}{RD}\mkN{ex2}{661,248}{GY}\mkN{ex3}{657,260}{BK,hub}\mkN{ex4}{644,259}{GY}\mkN{ex5}{664,270}{GY}\mkN{ex6}{671,282}{GY,lhub}\mkN{ex7}{679,271}{RD}\mkN{ex8}{685,280}{GY}\mkN{ex9}{683,291}{GY}\mkN{ex10}{672,296}{GY}\mkN{ex11}{660,293}{RD}\mkN{ex12}{657,283}{GY}
\mkE{ex1/ex2,ex2/ex3,ex3/ex4,ex3/ex5,ex5/ex6,ex6/ex7,ex6/ex8,ex6/ex9,ex6/ex10,ex6/ex11,ex6/ex12}
\mkN{ey1}{723,200}{RD}\mkN{ey0}{734,195}{RD}\mkN{ey2}{719,210}{GY}\mkN{ey3}{710,218}{GY}\mkN{ey4}{707,229}{GY}\mkN{ey5}{713,240}{GY}\mkN{ey6}{709,251}{RD}
\mkE{ey0/ey1,ey1/ey2,ey2/ey3,ey3/ey4,ey4/ey5,ey5/ey6}
\mkN{ez1}{758,232}{GY}\mkN{ez2}{756,244}{GY,hub}\mkN{ez3}{766,251}{GY}\mkN{ez4}{745,248}{GY}\mkN{ez5}{737,257}{GY}\mkN{ez6}{727,259}{GY}
\mkE{ez1/ez2,ez2/ez3,ez2/ez4,ez4/ez5,ez5/ez6}
\mkN{fa1}{743,267}{RD}\mkN{fa2}{753,272}{RD,hub}\mkN{fa3}{763,264}{RD}\mkN{fa4}{754,284}{RD}
\mkE{fa1/fa2,fa2/fa3,fa2/fa4}
\mkN{fb1}{728,296}{RD,lhub}\mkN{fb2}{717,287}{RD}\mkN{fb3}{727,282}{RD}\mkN{fb4}{738,286}{RD}\mkN{fb5}{742,295}{RD}\mkN{fb6}{740,305}{RD}\mkN{fb7}{720,307}{GY,hub}\mkN{fb8}{708,300}{RD}\mkN{fb9}{707,310}{RD}\mkN{fb10}{712,319}{RD}\mkN{fb11}{722,321}{RD}\mkN{fb12}{731,316}{RD}
\mkE{fb1/fb2,fb1/fb3,fb1/fb4,fb1/fb5,fb1/fb6,fb1/fb7,fb7/fb8,fb7/fb9,fb7/fb10,fb7/fb11,fb7/fb12}
\mkN{fd1}{623,295}{GN}\mkN{fd2}{618,306}{GN}\mkE{fd1/fd2}
\mkN{fe1}{633,335}{RD,hub}\mkN{fe2}{633,322}{RD}\mkN{fe3}{621,330}{GY}\mkN{fe4}{646,331}{GN}\mkN{fe5}{633,349}{GN,hub}\mkN{fe6}{646,352}{RD}\mkN{fe7}{622,354}{GN}\mkN{fe8}{612,360}{CY}\mkN{fe9}{638,361}{CY}
\mkE{fe1/fe2,fe1/fe3,fe1/fe4,fe1/fe5,fe5/fe6,fe5/fe7,fe7/fe8,fe5/fe9}
\mkN{ff1}{679,334}{GY,lhub}\mkN{ff2}{676,321}{GY}\mkN{ff3}{686,322}{GY}\mkN{ff4}{667,327}{GN}\mkN{ff5}{666,338}{GY}\mkN{ff6}{692,330}{GY}\mkN{ff7}{691,344}{GY}\mkN{ff8}{702,342}{GY}\mkN{ff9}{676,348}{RD}\mkN{ff10}{667,356}{GY}\mkN{ff11}{657,359}{GY}
\mkE{ff1/ff2,ff1/ff3,ff1/ff4,ff1/ff5,ff1/ff6,ff1/ff7,ff7/ff8,ff1/ff9,ff9/ff10,ff10/ff11}
\mkN{fg1}{609,220}{GY}\mkN{fg2}{611,232}{BL}\mkE{fg1/fg2}
\mkN{fh1}{633,213}{GY}\mkN{fh2}{634,225}{GY}\mkE{fh1/fh2}
% ================= Legends =================
\foreach \xx/\yy/\cc/\tt/\ii in {5/390/cGN/Anhui/1,52/390/cCQ/Chongqing/2,120/390/cCY/Henan/3,167/390/cBL/Jiangsu/4,222/390/cSX/Shannxi/5,285/390/cRD/Shanghai/6,345/390/cMG/Zhejiang/7,5/404/cBK/Beijing/8,52/404/cYE/Guangdong/9,120/404/cOR/Hunan/10,167/404/cLP/Liaoning/11,222/404/cSD/Shandong/12,285/404/cYN/Yunnan/13,345/404/cGY/Others/14}{
  \node[lsq,fill=\cc] (lsq\ii) at (\xx,\yy) {};
  \node[lci,fill=\cc] (lci\ii) at (\xx+8,\yy) {};
  \node[ltx] (ltx\ii) at (\xx+12.5,\yy) {\tt};
}
\foreach \xx/\yy/\cc/\tt/\ii in {492/390/cRD/V179D\slash E/1,561/390/cBL/M46L/2,632/390/cGN/T69N/3,699/390/cCY/P225H/4,492/405/cBK/Others/5,561/405/cGY/No-drug resistance mutation/6}{
  \node[lcb,fill=\cc] (lbc\ii) at (\xx,\yy) {};
  \node[ltx] (lbt\ii) at (\xx+8,\yy) {\tt};
}
\end{tikzpicture}
\end{document}
